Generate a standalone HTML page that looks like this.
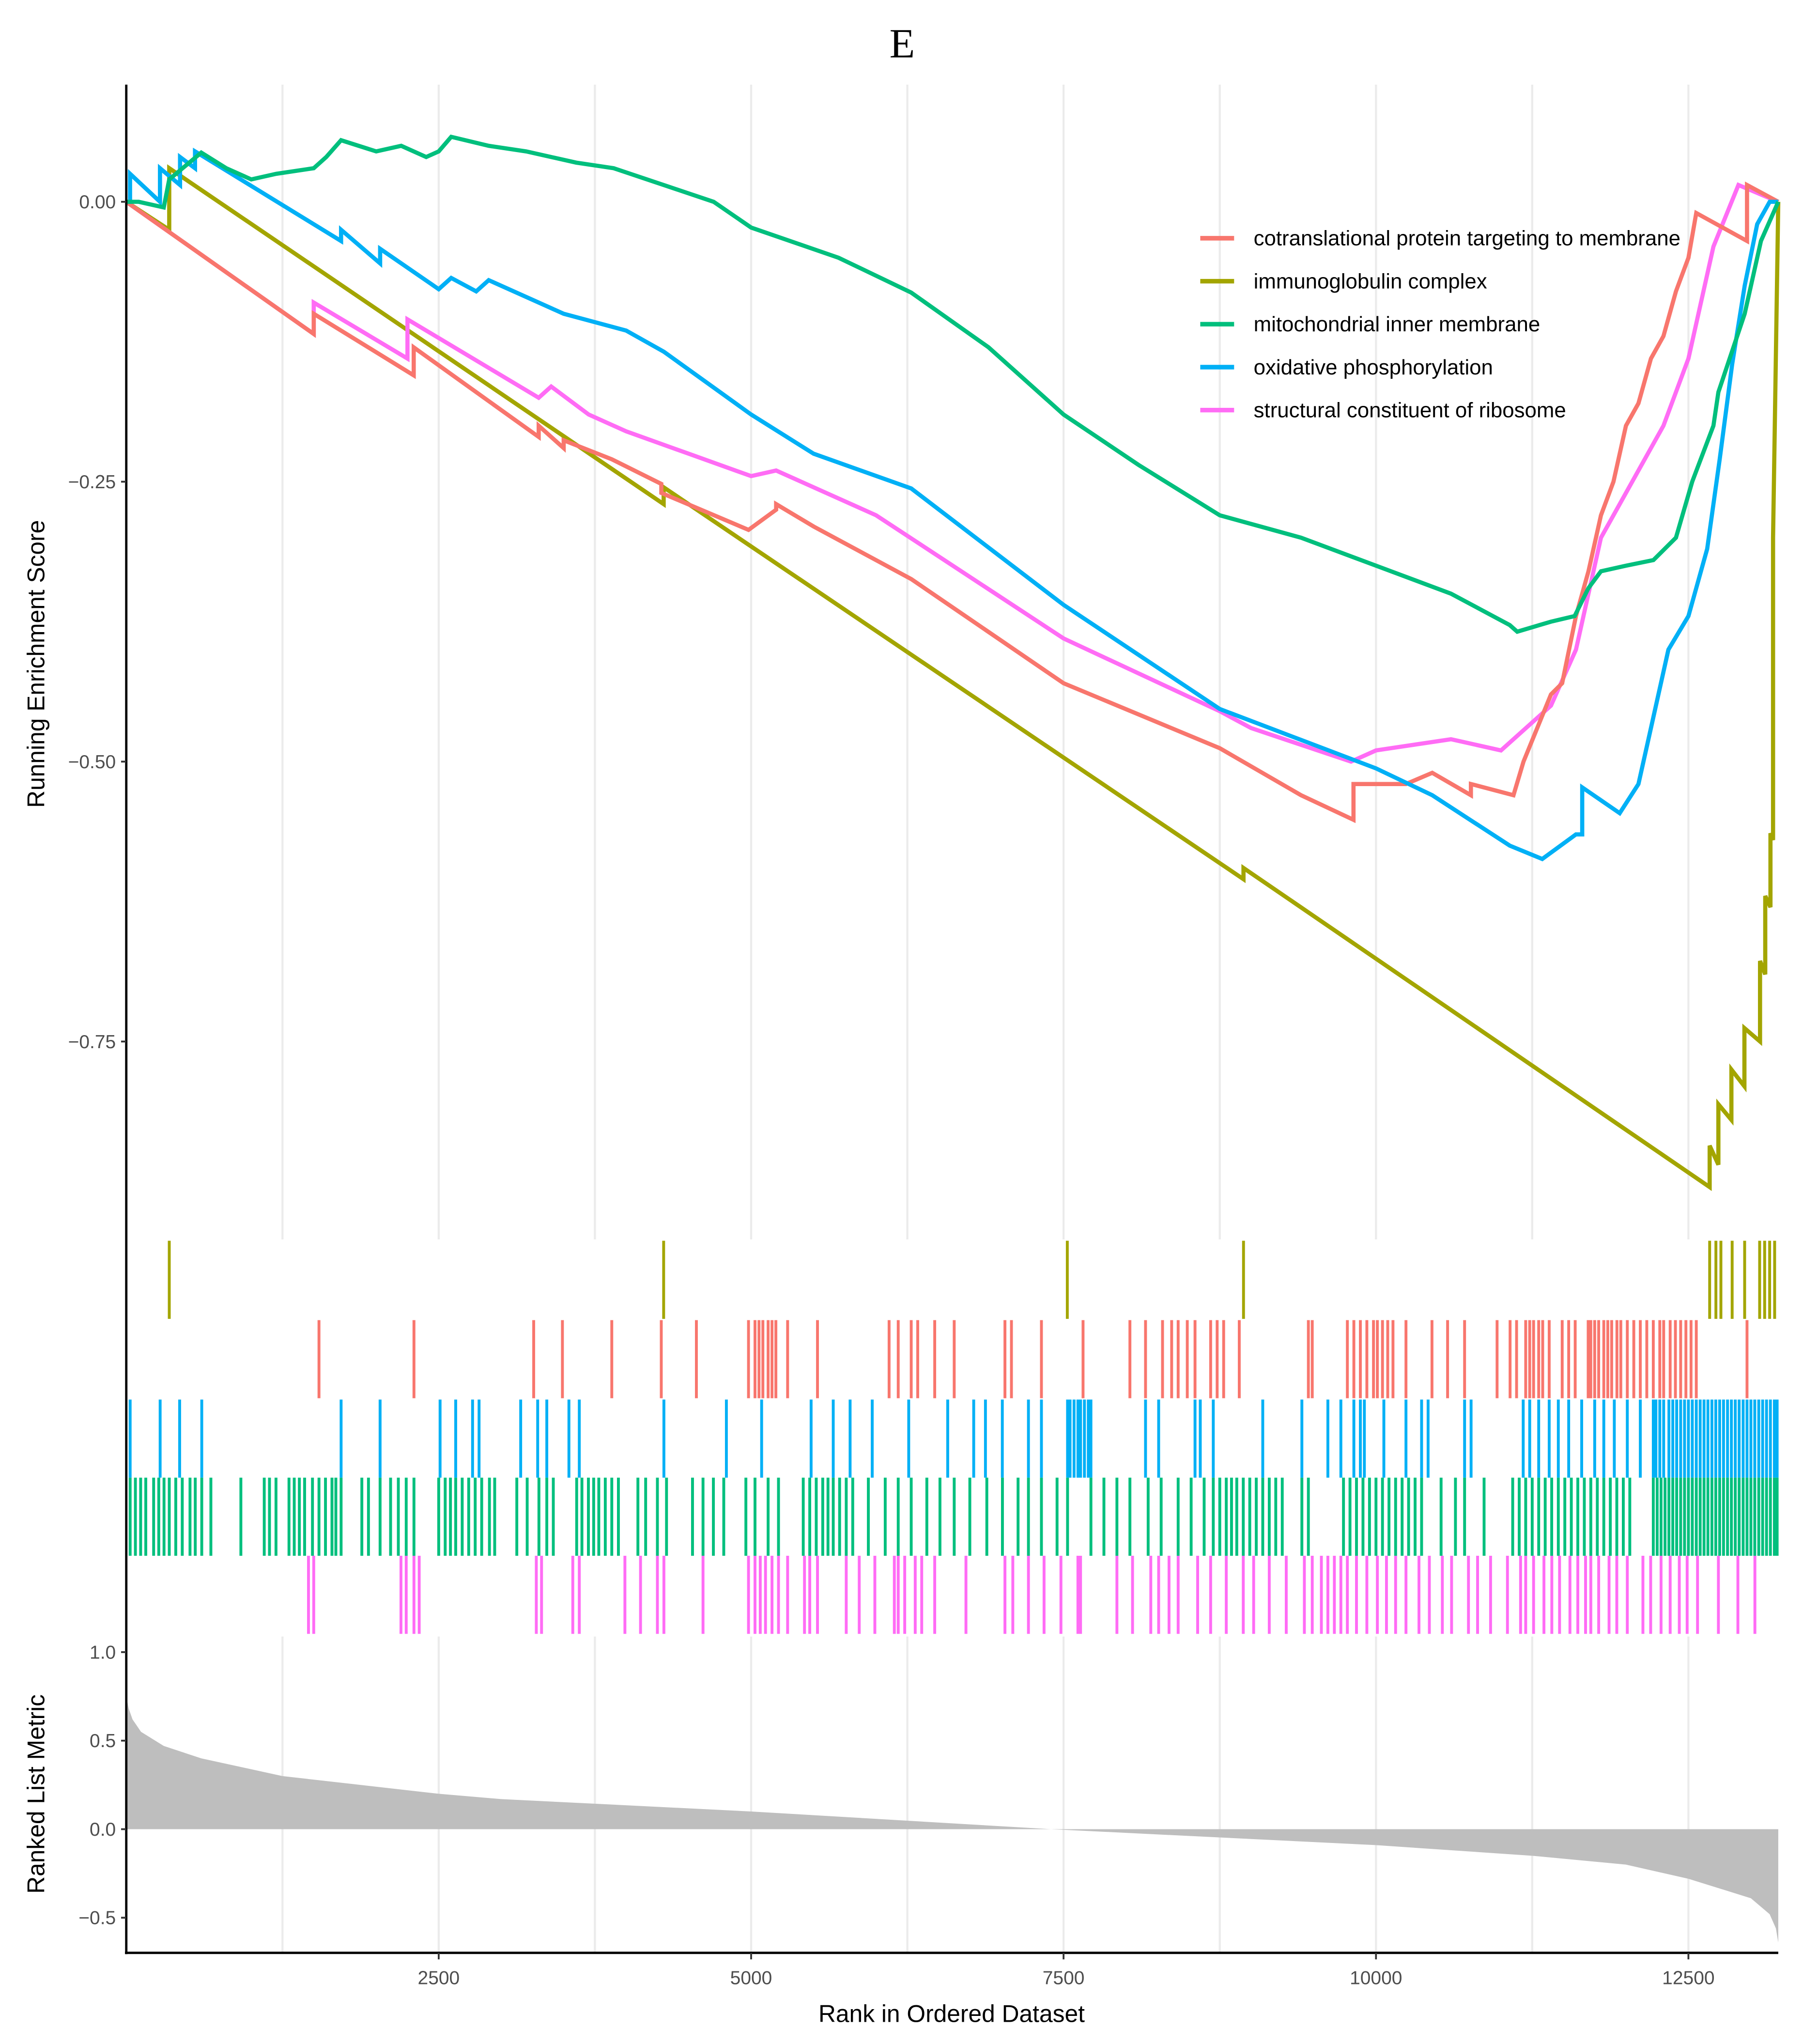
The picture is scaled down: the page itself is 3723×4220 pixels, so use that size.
<!DOCTYPE html>
<html><head><meta charset="utf-8"><style>
html,body{margin:0;padding:0;background:#fff;}
svg{display:block;}
text{font-family:"Liberation Sans",sans-serif;}
</style></head><body>
<svg id="chart" width="3723" height="4220" viewBox="0 0 1385 1570" preserveAspectRatio="none" xmlns="http://www.w3.org/2000/svg">
<rect x="0" y="0" width="1385" height="1570" fill="#fff"/>
<text x="693" y="44" text-anchor="middle" font-size="32" style="font-family:'Liberation Serif',serif">E</text>
<g id="grid"></g>
<g id="bars"></g>
<g id="hits"></g>
<g id="lines"></g>
<g id="axes"></g>
<g id="legend"></g>
<text transform="translate(34,510) rotate(-90)" text-anchor="middle" font-size="18.5">Running Enrichment Score</text>
<text transform="translate(34,1378) rotate(-90)" text-anchor="middle" font-size="18.5">Ranked List Metric</text>
<text x="731" y="1553" text-anchor="middle" font-size="18.5">Rank in Ordered Dataset</text>
</svg>
<script>
const seriesNames=["cotranslational protein targeting to membrane","immunoglobulin complex","mitochondrial inner membrane","oxidative phosphorylation","structural constituent of ribosome"];
const seriesColors=["#F8766D","#A3A500","#00BF7D","#00B0F6","#FF6CF5"];
const esTicks=[0,-0.25,-0.5,-0.75];
const metricTicks=[1.0,0.5,0.0,-0.5];
const rankTicks=[2500,5000,7500,10000,12500];
const gridRanks=[1250,2500,3750,5000,6250,7500,8750,10000,11250,12500];
const maxRank=13219;
const redRanks=[0,1500,1500,2300,2300,3300,3300,3500,3500,3885,4281,4281,4979,5200,5200,5500,6281,7500,8750,9400,9820,9820,10240,10450,10760,10760,11100,11180,11400,11490,11600,11700,11800,11900,12000,12100,12200,12300,12400,12500,12563,12969,12969,13219];
const redES=[0,-0.118,-0.1,-0.155,-0.13,-0.21,-0.2,-0.22,-0.213,-0.23,-0.252,-0.26,-0.293,-0.275,-0.27,-0.29,-0.337,-0.43,-0.488,-0.53,-0.552,-0.52,-0.52,-0.51,-0.53,-0.52,-0.53,-0.5,-0.44,-0.43,-0.37,-0.33,-0.28,-0.25,-0.2,-0.18,-0.14,-0.12,-0.08,-0.05,-0.01,-0.035,0.015,0];
const oliveRanks=[0,344,344,4300,4300,8940,8940,12670,12670,12740,12740,12844,12844,12948,12948,13073,13073,13115,13115,13156,13156,13177,13177,13219];
const oliveES=[0,-0.025,0.03,-0.27,-0.255,-0.605,-0.595,-0.88,-0.843,-0.86,-0.806,-0.82,-0.775,-0.79,-0.738,-0.75,-0.678,-0.69,-0.62,-0.63,-0.564,-0.57,-0.3,0];
const greenRanks=[0,100,300,344,600,800,1000,1200,1500,1600,1719,2000,2200,2400,2500,2600,2900,3200,3600,3900,4300,4700,5000,5700,6280,6900,7500,8100,8750,9400,10000,10600,11070,11130,11400,11590,11700,11800,12000,12220,12400,12530,12700,12740,12950,13080,13219];
const greenES=[0,0.0,-0.005,0.02,0.044,0.03,0.02,0.025,0.03,0.04,0.055,0.045,0.05,0.04,0.045,0.058,0.05,0.045,0.035,0.03,0.015,0.0,-0.023,-0.05,-0.081,-0.13,-0.19,-0.235,-0.28,-0.30,-0.325,-0.35,-0.378,-0.384,-0.375,-0.37,-0.345,-0.33,-0.325,-0.32,-0.3,-0.25,-0.2,-0.17,-0.1,-0.035,0];
const blueRanks=[0,30,30,270,270,430,430,550,550,1719,1719,2031,2031,2500,2600,2800,2900,3500,4000,4302,5000,5500,6281,7500,8750,10000,10450,11070,11330,11600,11650,11650,11950,12100,12200,12340,12500,12650,12750,12850,12950,13050,13150,13219];
const blueES=[0,0,0.025,0.0,0.03,0.015,0.04,0.03,0.045,-0.035,-0.025,-0.055,-0.042,-0.078,-0.068,-0.08,-0.07,-0.1,-0.115,-0.134,-0.19,-0.225,-0.256,-0.36,-0.453,-0.506,-0.53,-0.575,-0.587,-0.565,-0.565,-0.523,-0.546,-0.52,-0.47,-0.40,-0.37,-0.31,-0.23,-0.145,-0.075,-0.02,0.0,0];
const pinkRanks=[0,1500,1500,2250,2250,3300,3400,3700,4000,4500,5000,5200,6000,7500,8750,9000,9800,10000,10600,11000,11200,11400,11600,11800,12000,12300,12500,12700,12900,13219];
const pinkES=[0,-0.118,-0.09,-0.14,-0.105,-0.175,-0.165,-0.19,-0.205,-0.225,-0.245,-0.24,-0.28,-0.39,-0.455,-0.47,-0.5,-0.49,-0.48,-0.49,-0.47,-0.45,-0.4,-0.3,-0.26,-0.2,-0.14,-0.04,0.015,0];
const oliveHits=[344,4300,7530,8940,12670,12720,12760,12850,12950,13070,13110,13150,13190];
const redHits=[1542,2302,3260,3490,3885,4281,4562,4979,5031,5063,5094,5136,5167,5198,5292,5531,6104,6177,6281,6333,6469,6625,7031,7083,7323,7656,8031,8156,8292,8365,8417,8490,8552,8677,8729,8781,8906,9459,9490,9771,9823,9875,9927,9980,10011,10052,10094,10136,10240,10448,10573,10709,10969,11073,11125,11198,11230,11261,11302,11334,11386,11490,11542,11594,11698,11719,11750,11782,11823,11855,11886,11928,11959,12011,12063,12115,12167,12219,12271,12302,12354,12396,12438,12480,12521,12563,12969];
const blueHits=[31,271,427,604,1719,2031,2511,2636,2771,2823,3156,3292,3365,3542,3625,4302,4802,5084,5480,5657,5792,5969,6261,6573,6781,6875,7010,7219,7323,7532,7552,7584,7615,7636,7667,7698,7719,8156,8261,8552,8594,8698,9094,9407,9615,9719,9823,9875,9907,10063,10240,10365,10417,10709,10761,11178,11230,11302,11386,11459,11542,11646,11750,11823,11907,12011,12115,12219,12240,12271,12302,12344,12375,12406,12438,12469,12500,12531,12563,12594,12625,12656,12688,12719,12750,12781,12813,12844,12875,12906,12938,12969,13000,13031,13063,13094,13125,13156,13188,13210];
const greenHits=[31,73,115,156,219,260,302,344,396,448,510,552,604,677,917,1104,1146,1198,1302,1344,1385,1427,1490,1542,1594,1646,1677,1719,1885,1938,2031,2115,2177,2240,2302,2500,2552,2594,2636,2688,2740,2792,2844,2906,2948,3125,3208,3302,3365,3417,3604,3646,3698,3740,3781,3833,3885,3938,4094,4156,4250,4323,4531,4615,4698,4781,4958,5031,5136,5219,5417,5469,5521,5573,5615,5657,5708,5761,5813,5938,6073,6177,6281,6406,6511,6625,6750,6886,7011,7136,7219,7323,7448,7532,7719,7823,7927,8031,8177,8281,8417,8521,8625,8698,8750,8802,8844,8886,8938,8990,9042,9094,9146,9198,9250,9407,9459,9740,9792,9844,9896,9948,10000,10052,10104,10157,10209,10261,10313,10365,10521,10636,10709,10865,11094,11146,11198,11250,11302,11354,11406,11459,11511,11563,11615,11667,11719,11771,11823,11875,11927,11979,12031,12219,12250,12281,12313,12344,12375,12406,12438,12469,12500,12531,12563,12594,12625,12656,12688,12719,12750,12781,12813,12844,12875,12906,12938,12969,13000,13031,13063,13094,13125,13156,13188,13210];
const pinkHits=[1458,1500,2198,2240,2302,2344,3281,3323,3573,3625,3990,4115,4250,4302,4615,4979,5031,5073,5115,5167,5219,5292,5427,5469,5531,5761,5865,5990,6146,6177,6229,6313,6365,6469,6719,7031,7094,7219,7344,7479,7615,7636,7927,8052,8198,8261,8344,8417,8573,8677,8802,8938,9021,9146,9282,9427,9490,9563,9615,9667,9719,9771,9844,9927,10011,10084,10157,10240,10344,10427,10531,10605,10740,10813,10917,11052,11157,11198,11261,11344,11407,11469,11552,11615,11677,11719,11782,11865,11927,12011,12136,12198,12281,12354,12427,12490,12573,12740,12896,13032];
const metricRanks=[0,20,50,118,300,600,1250,2500,3000,5000,7400,10000,11250,12000,12500,13000,13150,13200,13219];
const metricValues=[0.75,0.68,0.62,0.55,0.47,0.40,0.30,0.20,0.17,0.10,0.0,-0.09,-0.15,-0.2,-0.28,-0.39,-0.48,-0.56,-0.64];

const NS="http://www.w3.org/2000/svg";
const X0=97,X1=1366;
const xs=r=>X0+r*(X1-X0)/maxRank;
const yES=v=>155-v*860;
const yM=v=>1405-v*136;
function mk(tag,attrs,parent){const e=document.createElementNS(NS,tag);for(const k in attrs)e.setAttribute(k,attrs[k]);parent.appendChild(e);return e;}
const grid=document.getElementById('grid'),bars=document.getElementById('bars'),hits=document.getElementById('hits'),lines=document.getElementById('lines'),axes=document.getElementById('axes'),legend=document.getElementById('legend');
gridRanks.forEach(r=>{
 let g=mk('line',{x1:xs(r),x2:xs(r),y1:65,y2:952,stroke:'#ebebeb','stroke-width':1.6},grid);
 
 
 let g2=mk('line',{x1:xs(r),x2:xs(r),y1:1257,y2:1500,stroke:'#ebebeb','stroke-width':1.6},grid);
 
 
});
let d='M'+xs(0)+','+yM(0);
metricRanks.forEach((r,i)=>{d+=' L'+xs(r)+','+yM(metricValues[i]);});
d+=' L'+xs(maxRank)+','+yM(0)+' Z';
const area=mk('path',{d:d,fill:'#bebebe'},bars);


const hitSets=[oliveHits,redHits,blueHits,greenHits,pinkHits];
const hitColorIdx=[1,0,3,2,4];
const rowTop=[953,1014,1075,1135,1195];
hitSets.forEach((arr,k)=>{
 arr.forEach(r=>{
  const l=mk('line',{x1:xs(r),x2:xs(r),y1:rowTop[k],y2:rowTop[k]+60,stroke:seriesColors[hitColorIdx[k]],'stroke-width':2.2},hits);
  
  
 });
});
const curves=[[redRanks,redES],[oliveRanks,oliveES],[greenRanks,greenES],[blueRanks,blueES],[pinkRanks,pinkES]];
const drawOrder=[1,4,0,3,2];
drawOrder.forEach(i=>{
 const [rr,vv]=curves[i];
 const pts=rr.map((r,j)=>xs(r).toFixed(1)+','+yES(vv[j]).toFixed(1)).join(' ');
 const p=mk('polyline',{points:pts,fill:'none',stroke:seriesColors[i],'stroke-width':3.2,'stroke-linejoin':'miter'},lines);
 
 
});
const ax=mk('line',{x1:X0,x2:X0,y1:65,y2:1501,stroke:'#000','stroke-width':1.8},axes);


const bx=mk('line',{x1:X0-1,x2:X1,y1:1500,y2:1500,stroke:'#000','stroke-width':1.8},axes);


const fmt2=v=>(v<0?'\u2212':'')+Math.abs(v).toFixed(2);
const fmt1=v=>(v<0?'\u2212':'')+Math.abs(v).toFixed(1);
esTicks.forEach(v=>{
 mk('line',{x1:X0-4,x2:X0,y1:yES(v),y2:yES(v),stroke:'#333','stroke-width':1.4},axes);
 const t=mk('text',{x:X0-8,y:yES(v)+5,'text-anchor':'end','font-size':14.5,fill:'#4d4d4d'},axes);
 t.textContent=fmt2(v);
 
 
});
metricTicks.forEach(v=>{
 mk('line',{x1:X0-4,x2:X0,y1:yM(v),y2:yM(v),stroke:'#333','stroke-width':1.4},axes);
 const t=mk('text',{x:X0-8,y:yM(v)+5,'text-anchor':'end','font-size':14.5,fill:'#4d4d4d'},axes);
 t.textContent=fmt1(v);
 
 
});
rankTicks.forEach(r=>{
 mk('line',{x1:xs(r),x2:xs(r),y1:1500,y2:1505,stroke:'#333','stroke-width':1.4},axes);
 const t=mk('text',{x:xs(r),y:1524,'text-anchor':'middle','font-size':14.5,fill:'#4d4d4d'},axes);
 t.textContent=r;
 
 
});
seriesNames.forEach((n,i)=>{
 const y=183+i*33;
 const l=mk('line',{x1:922,x2:948,y1:y,y2:y,stroke:seriesColors[i],'stroke-width':3.5},legend);
 
 
 const t=mk('text',{x:963,y:y+5.5,'font-size':16.3,fill:'#000'},legend);
 t.textContent=n;
 
 
});
</script>
</body></html>
